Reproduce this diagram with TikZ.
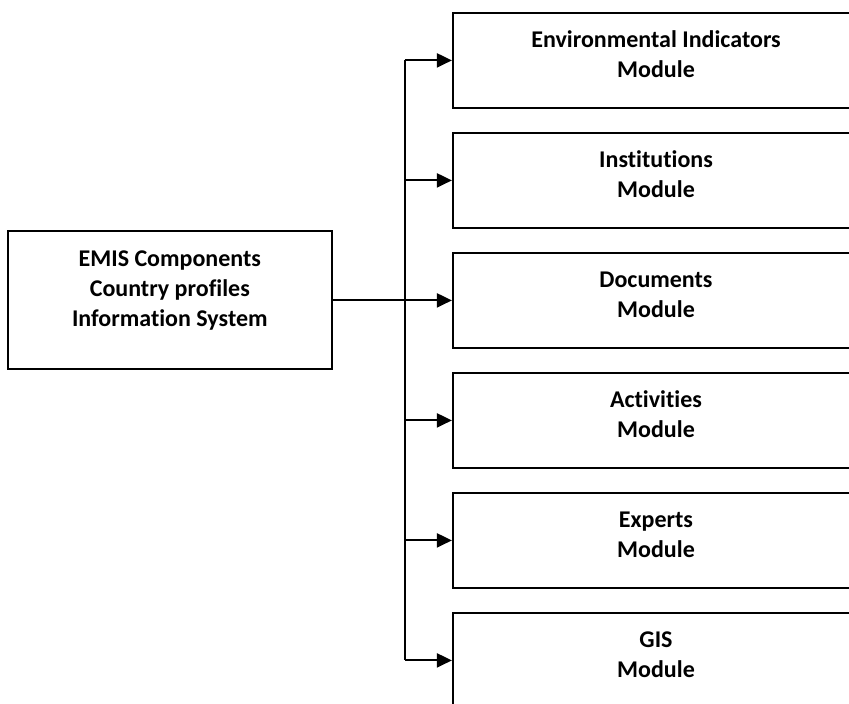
\documentclass[tikz,border=0pt]{standalone}
\usepackage{fontspec}
\setmainfont{Carlito}[Ligatures={NoCommon, NoRequired, NoContextual}, Contextuals=NoAlternate]
\usetikzlibrary{%
    arrows.meta,
    positioning,
    calc
}

\begin{document}
\begin{tikzpicture}[auto, node distance=11.4pt,
                module/.style={rectangle, minimum width=203pt, minimum height=47.5pt, text centered, draw, line width=1.1pt, align=center, text depth=6pt, font=\bfseries\fontsize{12}{15}\selectfont},
                system/.style={rectangle, minimum width=162pt, minimum height=69pt, text centered, draw, line width=1.1pt, align=center, text depth=12pt, font=\bfseries\fontsize{12}{15}\selectfont},
                flow/.style={draw, line width=1pt, -{Triangle[length=7.5pt, width=7pt]}},
                bus/.style={draw, line width=1pt}
            ]
            \path [use as bounding box, clip] (0,0) rectangle (424.5pt,-352pt);

            \node (env) at (328pt,-30.2pt) [module] {Environmental Indicators \\ Module};
            \node (inst) [module, below=of env] {Institutions \\ Module};
            \node (docs) [module, below=of inst] {Documents \\ Module};
            \node (act) [module, below=of docs] {Activities \\ Module};
            \node (expert) [module, below=of act] {Experts \\ Module};
            \node (gis) [module, below=of expert] {GIS \\ Module};

            \node (main) [system, left=59.5pt of docs] {EMIS Components \\ Country profiles \\ Information System};

            \coordinate (bus) at ([xshift=-23.5pt]docs.west);

            \draw [bus] (bus |- env) -- (bus |- gis);
            \draw [bus] (main) -- (bus |- docs);
            \foreach \m in {env, inst, docs, act, expert, gis}
                \draw [flow] (bus |- \m) -- (\m.west);
        \end{tikzpicture}
\end{document}
